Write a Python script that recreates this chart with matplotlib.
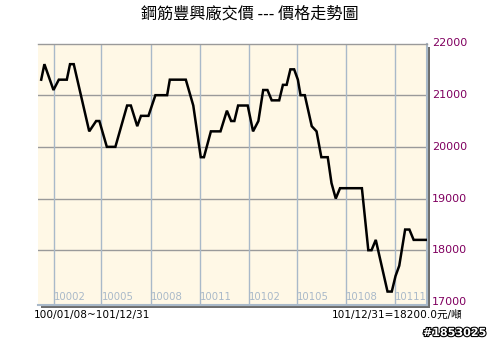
import matplotlib
matplotlib.use("Agg")
import matplotlib.pyplot as plt
import matplotlib.dates as mdates
import matplotlib.patheffects as pe
from matplotlib.patches import Rectangle
import numpy as np

plt.rcParams['font.family'] = ['Noto Sans CJK TC', 'DejaVu Sans']

dates = ["2011-01-08", "2011-01-14", "2011-01-31", "2011-02-10", "2011-02-25", "2011-03-03",
         "2011-03-10", "2011-04-08", "2011-04-21", "2011-04-27", "2011-05-11", "2011-05-27",
         "2011-06-18", "2011-06-25", "2011-07-07", "2011-07-14", "2011-07-28", "2011-08-10",
         "2011-09-01", "2011-09-06", "2011-10-06", "2011-10-20", "2011-11-03", "2011-11-09",
         "2011-11-22", "2011-12-10", "2011-12-22", "2011-12-30", "2012-01-05", "2012-01-12",
         "2012-01-30", "2012-02-09", "2012-02-19", "2012-02-28", "2012-03-07", "2012-03-15",
         "2012-03-29", "2012-04-05", "2012-04-12", "2012-04-19", "2012-04-26", "2012-05-03",
         "2012-05-08", "2012-05-16", "2012-05-29", "2012-06-07", "2012-06-16", "2012-06-28",
         "2012-07-05", "2012-07-13", "2012-07-21", "2012-08-31", "2012-09-12", "2012-09-18",
         "2012-09-26", "2012-10-18", "2012-10-26", "2012-11-02", "2012-11-09", "2012-11-20",
         "2012-11-28", "2012-12-06", "2012-12-31"]
prices = [21300, 21600, 21100, 21300, 21300, 21600,
          21600, 20300, 20500, 20500, 20000, 20000,
          20800, 20800, 20400, 20600, 20600, 21000,
          21000, 21300, 21300, 20800, 19800, 19800,
          20300, 20300, 20700, 20500, 20500, 20800,
          20800, 20300, 20500, 21100, 21100, 20900,
          20900, 21200, 21200, 21500, 21500, 21300,
          21000, 21000, 20400, 20300, 19800, 19800,
          19300, 19000, 19200, 19200, 18000, 18000,
          18200, 17200, 17200, 17500, 17700, 18400,
          18400, 18200, 18200]

y_ticks = [17000, 18000, 19000, 20000, 21000, 22000]
x_grid_dates = ["2011-02-01", "2011-05-01", "2011-08-01", "2011-11-01",
                "2012-02-01", "2012-05-01", "2012-08-01", "2012-11-01"]
x_grid_labels = ["10002", "10005", "10008", "10011", "10102", "10105", "10108", "10111"]

title = "鋼筋豐興廠交價 --- 價格走勢圖"
range_text = "100/01/08~101/12/31"
last_text = "101/12/31=18200.0元/噸"
id_text = "#1853025"

W, H = 491, 342
fig = plt.figure(figsize=(W / 100, H / 100), dpi=100)
fig.patch.set_facecolor("white")

L, R, T, B = 38, 427, 43.5, 305
ax = fig.add_axes([L / W, 1 - B / H, (R - L) / W, (B - T) / H])

# shadow
fig.patches.append(Rectangle(((L + 3) / W, 1 - (B + 3) / H), (R - L) / W, (B - T) / H,
                             transform=fig.transFigure, facecolor="#6e6e6e",
                             edgecolor="none", zorder=0))
ax.set_zorder(1)

ax.set_facecolor("#fff8e6")
x = mdates.datestr2num(dates)
ax.plot(x, prices, color="black", lw=1.8, zorder=3, solid_joinstyle="miter")

ax.set_xlim(mdates.datestr2num("2011-01-02"), mdates.datestr2num("2012-12-31"))
ax.set_ylim(16940, 22000)

for v in y_ticks[1:-1]:
    ax.axhline(v, color="#9a9a9a", lw=1, zorder=1)
for d, lab in zip(x_grid_dates, x_grid_labels):
    xv = mdates.datestr2num(d)
    ax.axvline(xv, color="#a9b9c9", lw=1, zorder=1)
    ax.text(xv, 16990, lab, color="#a9b9c9", fontsize=7.3, family=["DejaVu Sans"],
            ha="left", va="bottom", zorder=2)

ax.set_xticks([])
ax.set_yticks([])
ax.spines["left"].set_visible(False)
ax.spines["top"].set_color("#9a9a9a")
ax.spines["top"].set_linewidth(1)
ax.spines["right"].set_color("#a9b9c9")
ax.spines["right"].set_linewidth(1.5)
ax.spines["bottom"].set_color("#a9b9c9")
ax.spines["bottom"].set_linewidth(1.5)

# right-side labels
for v in y_ticks:
    ax.text(1.0 + 5 / (R - L), (v - 16940) / (22000 - 16940), f"{v}", transform=ax.transAxes,
            color="#800060", fontsize=8, family=["DejaVu Sans"],
            ha="left", va="center", clip_on=False)

fig.text(250 / W, 1 - 14 / H, title, ha="center", va="center", fontsize=11.6, color="black")
fig.text(34 / W, 1 - 315 / H, range_text, ha="left", va="center", fontsize=7.6,
         family=["DejaVu Sans"], color="black")
fig.text(462 / W, 1 - 315 / H, last_text, ha="right", va="center", fontsize=7.6,
         family=["DejaVu Sans", "Noto Sans CJK TC"], color="black")
fig.text(486 / W, 1 - 333 / H, id_text, ha="right", va="center", fontsize=8,
         family=["DejaVu Sans"], fontweight="bold", color="white",
         path_effects=[pe.withStroke(linewidth=1.6, foreground="black")])

fig.savefig("out.png", dpi=100)
